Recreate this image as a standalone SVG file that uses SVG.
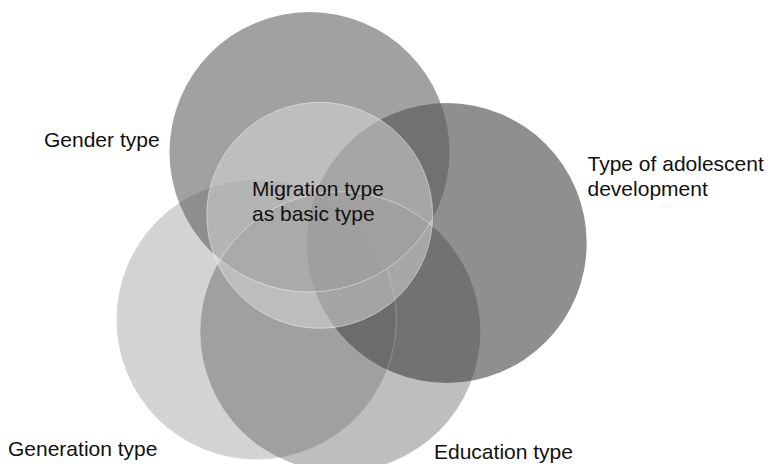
<svg xmlns="http://www.w3.org/2000/svg" width="770" height="464" viewBox="0 0 770 464">
  <style>
    .lbl { font-family: "Liberation Sans", Arial, Helvetica, sans-serif; font-size: 21px; fill: #111111; }
    .edge { fill: none; stroke: #ffffff; stroke-width: 0.8; stroke-opacity: 0.55; }
  </style>
  <defs>
    <clipPath id="clipC">
      <circle cx="319.7" cy="215.3" r="113"/>
    </clipPath>
  </defs>
  <rect width="770" height="464" fill="#ffffff"/>

  <g id="node-development">
    <circle cx="446.7" cy="243" r="140" fill="#8f8f8f"/>
    <text class="lbl" x="587.5" y="171">Type of adolescent</text>
    <text class="lbl" x="587.5" y="196">development</text>
  </g>

  <g id="node-generation">
    <circle cx="256.3" cy="319.7" r="140" fill="#737373" fill-opacity="0.314"/>
    <circle class="edge" cx="256.3" cy="319.7" r="140"/>
    <text class="lbl" x="8" y="456">Generation type</text>
  </g>

  <g id="node-education">
    <circle cx="340.3" cy="331.7" r="140" fill="#353535" fill-opacity="0.321"/>
    <text class="lbl" x="434" y="459">Education type</text>
  </g>

  <g id="node-gender">
    <circle cx="309.5" cy="152" r="140" fill="#5a5a5a" fill-opacity="0.571"/>
    <text class="lbl" x="44" y="147">Gender type</text>
  </g>

  <g id="node-migration">
    <circle cx="319.7" cy="215.3" r="113" fill="#dadada" fill-opacity="0.508"/>
    <g clip-path="url(#clipC)">
      <circle class="edge" cx="309.5" cy="152" r="140"/>
      <circle class="edge" cx="340.3" cy="331.7" r="140"/>
    </g>
    <circle class="edge" cx="319.7" cy="215.3" r="113"/>
    <text class="lbl" x="252" y="196">Migration type</text>
    <text class="lbl" x="252" y="221">as basic type</text>
  </g>

  <g id="connectors"/>
</svg>
